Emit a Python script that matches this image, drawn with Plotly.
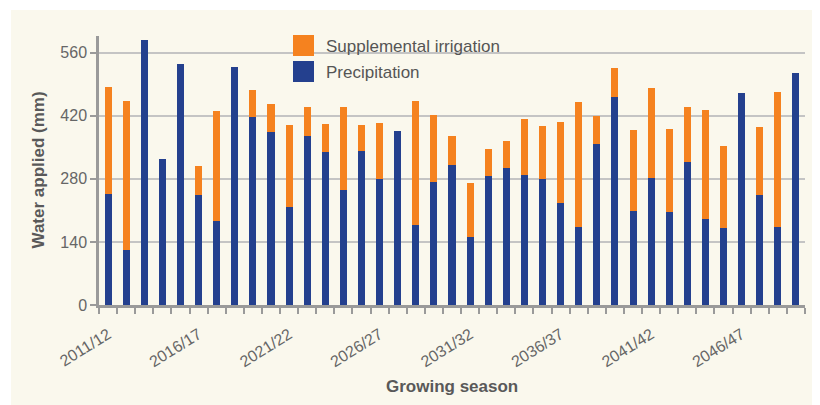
import plotly.graph_objects as go

# --- data ---
seasons = [
    "2011/12", "2012/13", "2013/14", "2014/15", "2015/16", "2016/17", "2017/18",
    "2018/19", "2019/20", "2020/21", "2021/22", "2022/23", "2023/24", "2024/25",
    "2025/26", "2026/27", "2027/28", "2028/29", "2029/30", "2030/31", "2031/32",
    "2032/33", "2033/34", "2034/35", "2035/36", "2036/37", "2037/38", "2038/39",
    "2039/40", "2040/41", "2041/42", "2042/43", "2043/44", "2044/45", "2045/46",
    "2046/47", "2047/48", "2048/49", "2049/50",
]
precipitation = [
    247, 121, 588, 324, 535, 244, 187, 528, 417, 384, 218, 375, 340, 255,
    342, 280, 386, 178, 273, 311, 151, 286, 304, 289, 280, 226, 173, 357,
    462, 209, 282, 206, 317, 191, 171, 471, 244, 173, 515,
]
irrigation = [
    237, 332, 0, 0, 0, 64, 244, 0, 60, 62, 182, 64, 62, 184,
    58, 124, 0, 275, 149, 64, 120, 60, 60, 124, 117, 180, 278, 63,
    64, 180, 200, 185, 122, 242, 182, 0, 151, 300, 0,
]
labelled_seasons = ["2011/12", "2016/17", "2021/22", "2026/27",
                    "2031/32", "2036/37", "2041/42", "2046/47"]
y_ticks = [0, 140, 280, 420, 560]

BLUE = "#24408e"
ORANGE = "#f5821f"
CREAM = "#faf8ed"
AXIS = "#9a9a9a"
FONT = "Liberation Sans, Arial, sans-serif"

# the page body has an 8px margin, so the figure starts at (8, 8) on screen
OFF = 8
W, H = 820 - OFF, 405 - OFF
L, T = 99 - OFF, 36 - OFF
R = W - (805 - OFF)
B = H - (305 - OFF)
PW, PH = W - L - R, H - T - B


def px_x(px):  # screen pixel -> paper x
    return (px - OFF - L) / PW


def px_y(py):  # screen pixel -> paper y
    return (H - B - (py - OFF)) / PH


fig = go.Figure()
fig.add_trace(go.Bar(x=seasons, y=precipitation, name="Precipitation",
                     marker=dict(color=BLUE, line=dict(width=0))))
fig.add_trace(go.Bar(x=seasons, y=irrigation, name="Supplemental irrigation",
                     marker=dict(color=ORANGE, line=dict(width=0))))

# cream panel (thin white strip on top/left)
shapes = [dict(type="rect", xref="paper", yref="paper", layer="below",
               x0=px_x(11), x1=px_x(830), y0=px_y(415), y1=px_y(10),
               fillcolor=CREAM, line=dict(width=0))]

# legend drawn by hand for the big square keys
legend_items = [("Supplemental irrigation", ORANGE, 35), ("Precipitation", BLUE, 61)]
annotations = []
for text, color, top in legend_items:
    shapes.append(dict(type="rect", xref="paper", yref="paper",
                       x0=px_x(293), x1=px_x(314), y0=px_y(top + 21), y1=px_y(top),
                       fillcolor=color, line=dict(width=0)))
    annotations.append(dict(text=text, xref="paper", yref="paper",
                            x=px_x(324), y=px_y(top + 11), xanchor="left",
                            yanchor="middle", showarrow=False,
                            font=dict(size=17, color="#555555", family=FONT)))

# axis titles
annotations.append(dict(text="<b>Growing season</b>", xref="paper", yref="paper",
                        x=0.5, y=px_y(386), xanchor="center", yanchor="middle",
                        showarrow=False, font=dict(size=17, color="#595959", family=FONT)))
annotations.append(dict(text="<b>Water applied (mm)</b>", xref="paper", yref="paper",
                        x=px_x(38), y=0.5, xanchor="center", yanchor="middle",
                        textangle=-90, showarrow=False,
                        font=dict(size=17, color="#595959", family=FONT)))

fig.update_layout(
    width=W, height=H,
    margin=dict(l=L, r=R, t=T, b=B, autoexpand=False),
    paper_bgcolor="white",
    plot_bgcolor="rgba(0,0,0,0)",
    barmode="stack",
    bargap=0.61,
    showlegend=False,
    font=dict(family=FONT, size=16, color="#666666"),
    shapes=shapes,
    annotations=annotations,
    xaxis=dict(
        type="category",
        tickmode="array",
        tickvals=seasons,
        ticktext=[s if s in labelled_seasons else "" for s in seasons],
        tickson="boundaries",
        ticks="outside", ticklen=6, tickwidth=2, tickcolor=AXIS,
        showline=True, linecolor=AXIS, linewidth=3,
        tickangle=-32,
        ticklabelstandoff=11,
        tickfont=dict(size=16, color="#666666"),
        showgrid=False,
        range=[-0.5, len(seasons) - 0.5],
        automargin=False,
    ),
    yaxis=dict(
        range=[0, 597],
        tickmode="array", tickvals=y_ticks,
        ticks="outside", ticklen=6, tickwidth=2, tickcolor=AXIS,
        showline=True, linecolor=AXIS, linewidth=2.5,
        showgrid=True, gridcolor="#c4c4c4", gridwidth=1.5,
        zeroline=False,
        tickfont=dict(size=16, color="#666666"),
        automargin=False,
    ),
)

fig.write_html("out.html")
